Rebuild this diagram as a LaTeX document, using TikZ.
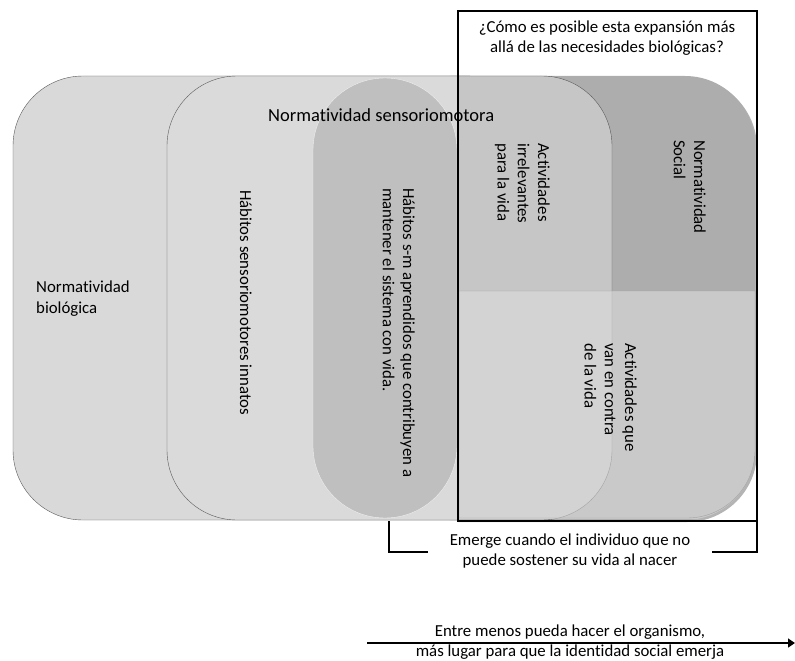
\documentclass[tikz,border=0pt]{standalone}
\usepackage{fontspec}
\setmainfont{Carlito}[Ligatures=NoCommon]
\usetikzlibrary{arrows.meta}
\definecolor{bioF}{HTML}{D9D9D9}
\definecolor{smF}{HTML}{DADADA}
\definecolor{edgeC}{HTML}{595959}
\definecolor{pillF}{HTML}{BFBFBF}
\definecolor{pillE}{HTML}{EFEFEF}
\definecolor{irrF}{HTML}{C6C6C6}
\definecolor{socF}{HTML}{ADADAD}
\definecolor{shadowC}{HTML}{B4B4B4}
\definecolor{lowA}{HTML}{D3D3D3}
\definecolor{lowB}{HTML}{C9C9C9}
\definecolor{lowEdge}{HTML}{A3A3A3}
\tikzset{
  txt/.style={font=\fontsize{16.8}{20.3}\selectfont, inner sep=0pt, text=black},
  rtxt/.style={txt, rotate=-90, align=left, anchor=north west},
  blk/.style={line width=2pt, black},
}
\begin{document}
\begin{tikzpicture}[x=1pt,y=-1pt]
\useasboundingbox (0,0) rectangle (795,661);
% Social (background) shape with slight shadow
\begin{scope}
  \clip (458,0) rectangle (795,661);
  \fill[shadowC, rounded corners=70pt] (382,78) rectangle (757,522);
\end{scope}
\fill[socF, rounded corners=70pt] (380,76) rectangle (755,520);
% Normatividad biologica
\draw[edgeC, fill=bioF, rounded corners=70pt] (470,76) -- (13,76) -- (13,520) -- (470,520);
% Normatividad sensoriomotora
\begin{scope}
  \clip (0,0) rectangle (458,661);
  \fill[smF, rounded corners=70pt] (167,76) rectangle (612,520);
\end{scope}
\begin{scope}
  \clip (458,0) rectangle (795,661);
  \fill[irrF, rounded corners=70pt] (167,76) rectangle (612,520);
\end{scope}
\draw[edgeC, rounded corners=70pt] (167,76) rectangle (612,520);
% learned habits pill
\draw[pillE, fill=pillF, rounded corners=72pt] (313,78) rectangle (457,518);
% lower right block
\begin{scope}
  \clip[rounded corners=70pt] (380,76) rectangle (755,520);
  \clip (459,291) rectangle (755,518);
  \fill[lowB] (459,291) rectangle (755,520);
  \clip[rounded corners=70pt] (167,76) rectangle (612,520);
  \fill[lowA] (459,291) rectangle (755,520);
\end{scope}
\begin{scope}
  \clip (459,291) rectangle (755,518);
  \draw[lowEdge, rounded corners=70pt] (167,76) rectangle (612,520);
\end{scope}
\draw[lowEdge] (459,518) -- (459,291) -- (755,291) -- (755,450)
  arc[start angle=0, end angle=-90, radius=68pt] -- (459,518);
% texts
\node[txt, font=\fontsize{18.5}{22}\selectfont, anchor=base west] (nsm) at (268,121) {Normatividad sensoriomotora};
\node[txt, align=left, anchor=north west] (nbio) at (36,281) {Normatividad\\biológica};
\node[txt, rotate=-90, anchor=base west] (innatos) at (240,190) {Hábitos sensoriomotores innatos};
\node[rtxt] (aprend) at (415,188) {Hábitos s-m aprendidos que contribuyen a\\mantener el sistema con vida.};
\node[rtxt] (irrel) at (550,143) {Actividades\\irrelevantes\\para la vida};
\node[rtxt] (social) at (706,140) {Normatividad\\Social};
\node[rtxt] (contra) at (637,343) {Actividades que\\van en contra\\de la vida};
\node[txt, align=center] (pregunta) at (607,38) {¿Cómo es posible esta expansión más\\allá de las necesidades biológicas?};
% black frame and bracket
\draw[blk] (458,11) rectangle (757,521);
\coordinate (bL1) at (389,521);
\coordinate (bL2) at (389,552);
\coordinate (bL3) at (428,552);
\coordinate (bR1) at (757,521);
\coordinate (bR2) at (757,552);
\coordinate (bR3) at (712,552);
\draw[blk] (bL1) -- (bL2) -- (bL3);
\draw[blk] (bR1) -- (bR2) -- (bR3);
\node[txt, align=center] (emerge) at (570,551) {Emerge cuando el individuo que no\\puede sostener su vida al nacer};
% bottom arrow
\coordinate (aS) at (367,643);
\coordinate (aE) at (795,643);
\draw[line width=1.3pt, -{Triangle[length=7pt,width=9pt]}] (aS) -- (aE);
\node[txt, align=center] (entre) at (570,642) {Entre menos pueda hacer el organismo,\\más lugar para que la identidad social emerja};
\end{tikzpicture}
\end{document}
